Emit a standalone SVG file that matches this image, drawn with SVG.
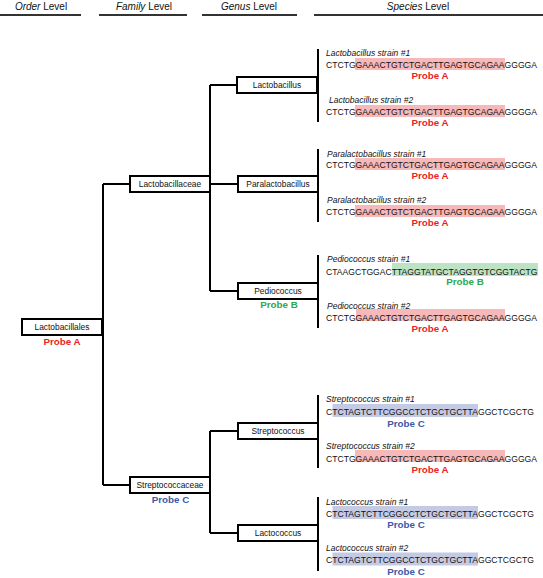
<svg xmlns="http://www.w3.org/2000/svg" width="543" height="578" viewBox="0 0 543 578">
<style>
text{font-family:"Liberation Sans",Arial,sans-serif;fill:#111}
.hdr{font-size:10px;text-anchor:middle}
.hl{stroke:#333;stroke-width:2}
.node rect{fill:#fff;stroke:#000;stroke-width:2}
.nt{font-size:8.4px;text-anchor:middle}
.lab{font-size:8.5px;font-style:italic}
.seq{font-size:8.6px}
.pr{font-size:9.8px;font-weight:bold;text-anchor:middle}
.pa{fill:#ea1f27}.pb{fill:#2ea84a}.pc{fill:#3a5aa8}
.ha{fill:#f6b8b8}.hb{fill:#bde3c5}.hc{fill:#c4cae4}
.con{stroke:#000;stroke-width:2;fill:none}
</style>
<g id="header">
<text class="hdr" x="41" y="10"><tspan font-style="italic">Order</tspan> Level</text>
<text class="hdr" x="144" y="10"><tspan font-style="italic">Family</tspan> Level</text>
<text class="hdr" x="249" y="10"><tspan font-style="italic">Genus</tspan> Level</text>
<text class="hdr" x="418" y="10"><tspan font-style="italic">Species</tspan> Level</text>
<line class="hl" x1="0" y1="15" x2="81" y2="15"/>
<line class="hl" x1="99" y1="15" x2="187" y2="15"/>
<line class="hl" x1="202" y1="15" x2="297" y2="15"/>
<line class="hl" x1="314" y1="15" x2="543" y2="15"/>
</g>
<g id="connectors" class="con">
<path d="M103 184V485M103 184H130M103 485H130"/>
<path d="M210 85V291M210 85H237M210 184H238M210 291H238"/>
<path d="M210 431V533M210 431H238M210 533H238"/>
<path d="M318 49V122M318 149V222M318 255V328M318 395V468M318 497V571"/>
</g>
<g id="lactobacillales" class="node"><rect x="22" y="319" width="80" height="16"/><text class="nt" x="62" y="330">Lactobacillales</text><text class="pr pa" x="62" y="345">Probe A</text></g>
<g id="lactobacillaceae" class="node"><rect x="130" y="176" width="80" height="16"/><text class="nt" x="170" y="187">Lactobacillaceae</text></g>
<g id="streptococcaceae" class="node"><rect x="130" y="477" width="80" height="16"/><text class="nt" x="170" y="488">Streptococcaceae</text><text class="pr pc" x="170.5" y="503">Probe C</text></g>
<g id="lactobacillus" class="node"><rect x="237" y="77" width="80" height="16"/><text class="nt" x="277" y="88">Lactobacillus</text></g>
<g id="paralactobacillus" class="node"><rect x="238" y="176" width="80" height="16"/><text class="nt" x="278" y="187">Paralactobacillus</text></g>
<g id="pediococcus" class="node"><rect x="238" y="283" width="80" height="16"/><text class="nt" x="278" y="294">Pediococcus</text><text class="pr pb" x="279" y="308">Probe B</text></g>
<g id="streptococcus" class="node"><rect x="238" y="423" width="80" height="16"/><text class="nt" x="278" y="434">Streptococcus</text></g>
<g id="lactococcus" class="node"><rect x="238" y="525" width="80" height="16"/><text class="nt" x="278" y="536">Lactococcus</text></g>
<g id="species-lactobacillus">
<rect class="ha" x="355" y="58" width="150" height="12"/>
<text class="lab" x="326" y="56">Lactobacillus strain #1</text>
<text class="seq" x="326" y="68">CTCTGGAAACTGTCTGACTTGAGTGCAGAAGGGGA</text>
<text class="pr pa" x="430" y="79">Probe A</text>
<rect class="ha" x="355" y="105" width="150" height="12"/>
<text class="lab" x="329" y="103">Lactobacillus strain #2</text>
<text class="seq" x="326" y="115">CTCTGGAAACTGTCTGACTTGAGTGCAGAAGGGGA</text>
<text class="pr pa" x="430" y="126">Probe A</text>
</g>
<g id="species-paralactobacillus">
<rect class="ha" x="355" y="158" width="150" height="12"/>
<text class="lab" x="327" y="156.5">Paralactobacillus strain #1</text>
<text class="seq" x="326" y="168">CTCTGGAAACTGTCTGACTTGAGTGCAGAAGGGGA</text>
<text class="pr pa" x="430" y="179">Probe A</text>
<rect class="ha" x="355" y="205" width="150" height="12"/>
<text class="lab" x="327" y="203">Paralactobacillus strain #2</text>
<text class="seq" x="326" y="215">CTCTGGAAACTGTCTGACTTGAGTGCAGAAGGGGA</text>
<text class="pr pa" x="430" y="226">Probe A</text>
</g>
<g id="species-pediococcus">
<rect class="hb" x="392" y="263" width="146" height="13"/>
<text class="lab" x="327" y="262">Pediococcus strain #1</text>
<text class="seq" x="326" y="274.5">CTAAGCTGGACTTAGGTATGCTAGGTGTCGGTACTG</text>
<text class="pr pb" x="465" y="285">Probe B</text>
<rect class="ha" x="356" y="309" width="149" height="12"/>
<text class="lab" x="327" y="308.5">Pediococcus strain #2</text>
<text class="seq" x="326" y="321">CTCTGGAAACTGTCTGACTTGAGTGCAGAAGGGGA</text>
<text class="pr pa" x="430" y="332">Probe A</text>
</g>
<g id="species-streptococcus">
<rect class="hc" x="332.5" y="404" width="145.5" height="13"/>
<text class="lab" x="326" y="402">Streptococcus strain #1</text>
<text class="seq" x="326" y="414.5">CTCTAGTCTTCGGCCTCTGCTGCTTAGGCTCGCTG</text>
<text class="pr pc" x="406" y="426.5">Probe C</text>
<rect class="ha" x="355" y="450" width="150" height="12"/>
<text class="lab" x="326" y="449">Streptococcus strain #2</text>
<text class="seq" x="326" y="461.5">CTCTGGAAACTGTCTGACTTGAGTGCAGAAGGGGA</text>
<text class="pr pa" x="430" y="473">Probe A</text>
</g>
<g id="species-lactococcus">
<rect class="hc" x="332.5" y="506" width="145.5" height="13"/>
<text class="lab" x="326" y="504.5">Lactococcus strain #1</text>
<text class="seq" x="326" y="516.5">CTCTAGTCTTCGGCCTCTGCTGCTTAGGCTCGCTG</text>
<text class="pr pc" x="406" y="527.5">Probe C</text>
<rect class="hc" x="332.5" y="552.5" width="145.5" height="13"/>
<text class="lab" x="326" y="551">Lactococcus strain #2</text>
<text class="seq" x="326" y="563">CTCTAGTCTTCGGCCTCTGCTGCTTAGGCTCGCTG</text>
<text class="pr pc" x="406" y="574.5">Probe C</text>
</g>
</svg>
